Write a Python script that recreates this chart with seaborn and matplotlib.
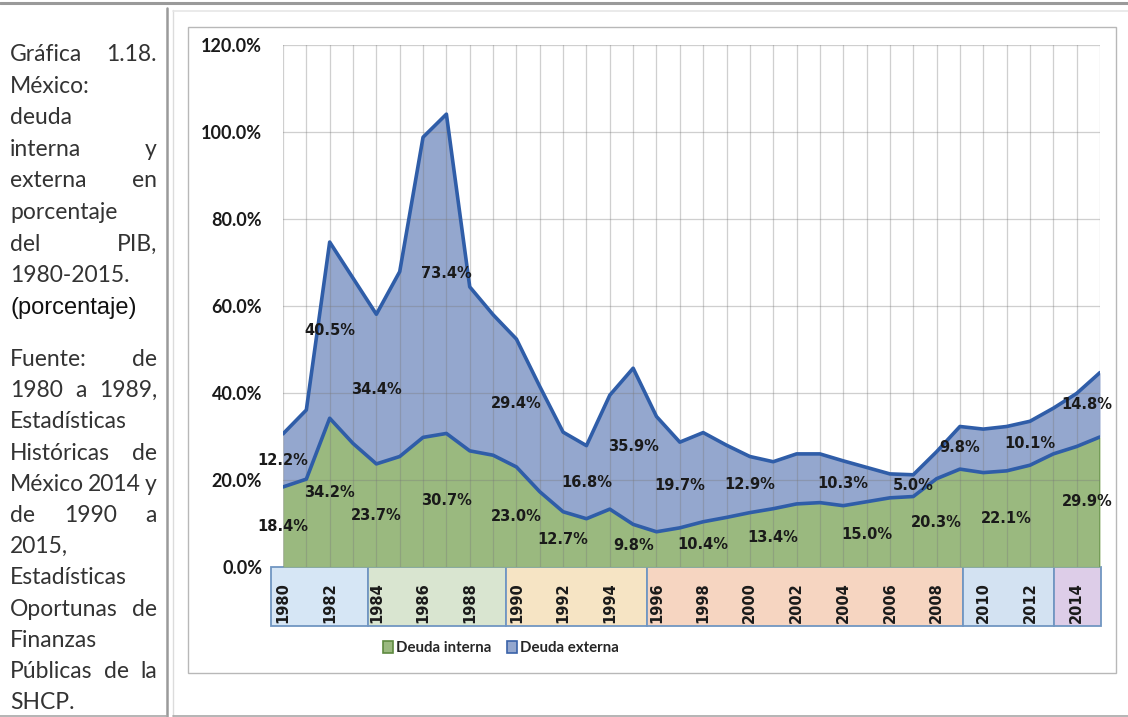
import matplotlib
matplotlib.use("Agg")
import matplotlib.pyplot as plt
from matplotlib.patches import Patch, Rectangle
from matplotlib.lines import Line2D
import matplotlib.transforms as mtransforms
import pandas as pd
import seaborn as sns

# ---------------- data (% del PIB) ----------------
years = list(range(1980, 2016))
deuda_interna = [18.4, 20.2, 34.2, 28.4, 23.7, 25.4, 29.8, 30.7, 26.7, 25.7,
                 23.0, 17.3, 12.7, 11.1, 13.3, 9.8, 8.1, 9.0, 10.4, 11.4,
                 12.5, 13.4, 14.5, 14.8, 14.1, 15.0, 15.9, 16.2, 20.3, 22.5,
                 21.7, 22.1, 23.4, 26.0, 27.7, 29.9]
deuda_externa = [12.2, 15.9, 40.5, 38.0, 34.4, 42.5, 69.0, 73.4, 37.7, 32.3,
                 29.4, 24.2, 18.3, 16.8, 26.2, 35.9, 26.5, 19.7, 20.5, 16.6,
                 12.9, 10.8, 11.5, 11.2, 10.3, 7.9, 5.5, 5.0, 6.2, 9.8,
                 10.0, 10.2, 10.1, 10.5, 12.2, 14.8]

# years whose values are written on the chart
etiquetas_interna = [1980, 1982, 1984, 1987, 1990, 1992, 1995, 1998, 2001,
                     2005, 2008, 2011, 2015]
etiquetas_externa = [1980, 1982, 1984, 1987, 1990, 1993, 1995, 1997, 2000,
                     2004, 2007, 2009, 2012, 2015]

year_ticks = list(range(1980, 2016))
year_labels = list(range(1980, 2015, 2))
y_ticks = [0, 20, 40, 60, 80, 100, 120]
y_tick_labels = [f"{v:.1f}%" for v in y_ticks]

serie_labels = ["Deuda interna", "Deuda externa"]

# ---------------- periods strip under the axis ----------------
periodo_bordes = [1979.49, 1983.64, 1989.55, 1995.6, 2009.13, 2013.03, 2015.05]
periodo_colores = ["#D6E6F5", "#D9E5D0", "#F6E4C4", "#F6D5C1", "#D3E2F2", "#DDCDE8"]

titulo_lineas = ["Gráfica 1.18.", "México:", "deuda", "interna y", "externa en",
                 "porcentaje", "del PIB,", "1980-2015."]
subtitulo = "(porcentaje)"
fuente_lineas = ["Fuente: de", "1980 a 1989,", "Estadísticas", "Históricas de",
                 "México 2014 y", "de 1990 a", "2015,", "Estadísticas",
                 "Oportunas de", "Finanzas", "Públicas de la", "SHCP."]

df = pd.DataFrame({"year": years, "interna": deuda_interna, "externa": deuda_externa})
df["total"] = df["interna"] + df["externa"]

# ---------------- figure ----------------
W, H = 1128, 717
sns.set_theme(style="white")
plt.rcParams["font.family"] = ["DejaVu Sans"]
fig = plt.figure(figsize=(W / 100, H / 100), dpi=100)
fig.patch.set_facecolor("white")


def px(x, y):
    return x / W, 1 - y / H


ax = fig.add_axes([283 / W, 1 - 567 / H, (1100 - 283) / W, (567 - 45) / H])
ax.set_facecolor("white")

GREEN = "#9AB97F"
BLUE = "#94A7CE"
LINE = "#2F5DA8"

ax.fill_between(df["year"], 0, df["interna"], color=GREEN, lw=0, zorder=1.2)
ax.fill_between(df["year"], df["interna"], df["total"], color=BLUE, lw=0, zorder=1.2)
ax.plot([2015, 2015], [0, deuda_interna[-1]], color="#6E9A50", lw=1.2, zorder=1.3)

sns.lineplot(data=df, x="year", y="interna", ax=ax, color=LINE, lw=2.6,
             legend=False, zorder=3)
sns.lineplot(data=df, x="year", y="total", ax=ax, color=LINE, lw=2.6,
             legend=False, zorder=3)

ax.set_xlim(1980, 2015)
ax.set_ylim(0, 120)
ax.set_xlabel("")
ax.set_ylabel("")
for s in ax.spines.values():
    s.set_visible(False)

ax.set_axisbelow(False)
ax.set_xticks(year_ticks)
ax.set_xticklabels([])
ax.set_yticks(y_ticks)
ax.set_yticklabels(y_tick_labels, fontsize=13, fontweight="bold", color="#1a1a1a",
                   family=["Lato", "DejaVu Sans"])
ax.tick_params(axis="x", length=0)
ax.tick_params(axis="y", length=0, pad=15)
ax.grid(True, color="#7a7a7a", alpha=0.36, lw=0.9)

# period boxes below the axis, with the year labels inside
trans = mtransforms.blended_transform_factory(ax.transData, ax.transAxes)
box_h = 59 / 522
for i, c in enumerate(periodo_colores):
    x0, x1 = periodo_bordes[i], periodo_bordes[i + 1]
    ax.add_patch(Rectangle((x0, -box_h), x1 - x0, box_h, transform=trans,
                           facecolor=c, edgecolor="#7196C2", lw=1.3,
                           clip_on=False, zorder=1))
for y in year_labels:
    ax.text(y, -36 / 522, str(y), transform=trans, rotation=90, ha="center",
            va="center", fontsize=10.5, fontweight="bold", color="#1a1a1a",
            family="DejaVu Sans", clip_on=False, zorder=2)

# value labels centred in each band
lab_kw = dict(ha="center", va="center", fontsize=10.5, fontweight="bold",
              color="#1a1a1a", family="DejaVu Sans", zorder=4)
for y in etiquetas_interna:
    i = years.index(y)
    xl = y - 0.55 if y == 2015 else y
    ax.text(xl, deuda_interna[i] / 2, f"{deuda_interna[i]:.1f}%", **lab_kw)
for y in etiquetas_externa:
    i = years.index(y)
    xl = y - 0.55 if y == 2015 else y
    ax.text(xl, deuda_interna[i] + deuda_externa[i] / 2,
            f"{deuda_externa[i]:.1f}%", **lab_kw)

# legend
handles = [Patch(facecolor=GREEN, edgecolor="#5E8A40", lw=1.2),
           Patch(facecolor=BLUE, edgecolor="#3A62A8", lw=1.2)]
fig.legend(handles, serie_labels, loc="center", bbox_to_anchor=px(501, 648),
           ncol=2, frameon=False, handlelength=0.7, handleheight=0.8,
           handletextpad=0.2, columnspacing=1.0,
           prop={"family": ["Lato", "DejaVu Sans"], "weight": "bold", "size": 10.8})

# ---------------- frames ----------------
def hline(y, x0, x1, color, lw):
    fig.add_artist(Line2D([x0 / W, x1 / W], [1 - y / H, 1 - y / H],
                          color=color, lw=lw, transform=fig.transFigure))


def vline(x, y0, y1, color, lw):
    fig.add_artist(Line2D([x / W, x / W], [1 - y0 / H, 1 - y1 / H],
                          color=color, lw=lw, transform=fig.transFigure))


hline(2.5, 0, W, "#9a9a9a", 2.2)
vline(167, 8, H, "#9a9a9a", 1.8)
vline(173, 10, H, "#dcdcdc", 1.0)
hline(10.5, 173, W, "#e6e6e6", 1.2)
hline(716, 0, 167, "#a8a8a8", 1.2)
hline(716, 173, W, "#a8a8a8", 1.2)
fig.add_artist(Rectangle((188 / W, 1 - 673 / H), (1116 - 188) / W, (673 - 27) / H,
                         transform=fig.transFigure, facecolor="none",
                         edgecolor="#b8b8b8", lw=1.0, zorder=0))

# ---------------- justified side text ----------------
renderer = fig.canvas.get_renderer()
XL, XR = 10, 157


def side_line(texto, y_base, props, justify=True):
    palabras = texto.split()
    if len(palabras) == 1 or not justify:
        fig.text(XL / W, 1 - y_base / H, texto, ha="left", va="baseline", **props)
        return
    objs = [fig.text(0, 1 - y_base / H, p, ha="left", va="baseline", **props)
            for p in palabras]
    widths = [o.get_window_extent(renderer).width for o in objs]
    gap = max((XR - XL - sum(widths)) / (len(objs) - 1), 4)
    x = XL
    for o, w in zip(objs, widths):
        o.set_x(x / W)
        x += w + gap


side_props = dict(family=["Lato", "DejaVu Sans"], fontweight="normal", fontsize=16.5,
                  color="#333333")
for k, t in enumerate(titulo_lineas):
    side_line(t, 52 + 31.6 * k + 9, side_props)
side_line(subtitulo, 52 + 31.6 * 8 + 9,
          dict(family=["Liberation Sans", "DejaVu Sans"], fontsize=17,
               color="#111111"), justify=False)
for k, t in enumerate(fuente_lineas):
    side_line(t, 357 + 31.2 * k + 9, side_props,
              justify=(k != len(fuente_lineas) - 1))

fig.savefig("out.png", dpi=100, facecolor="white")
